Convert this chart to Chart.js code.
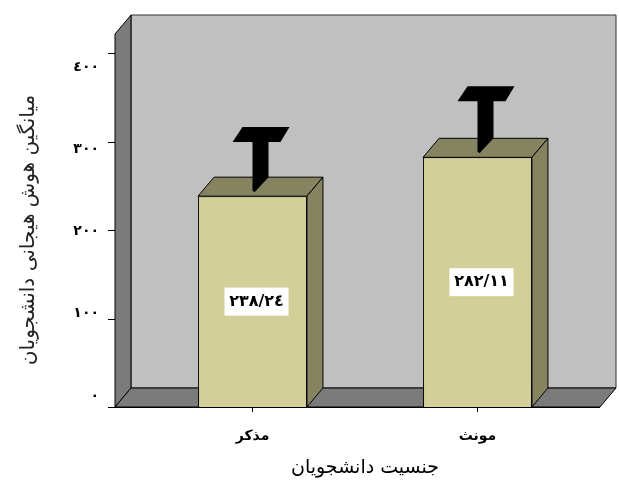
<!DOCTYPE html>
<html>
<head>
<meta charset="utf-8">
<script src="https://cdn.jsdelivr.net/npm/chart.js@4.4.0/dist/chart.umd.min.js"></script>
<style>
    body { margin: 0; background: #fff; }
    #wrap { width: 619px; height: 482px; }
</style>
</head>
<body>
<div id="wrap"><canvas id="grafico" width="619" height="482"></canvas></div>
<script>
const categories = ["مذکر", "مونث"];
const means = [238.24, 282.11];
const errors = [59, 61];
const yTicks = [0, 100, 200, 300, 400];

const FONT = "'DejaVu Sans', sans-serif";
const dx = 16, dy = -19; // profundidad 3D

// 0-9 -> arabic-indic digits, "." -> "/"
function arabicNum(n) {
    return String(n).replace(/[0-9]/g, d => "٠١٢٣٤٥٦٧٨٩"[d]).replace(".", "/");
}

function poly(ctx, pts, fill, stroke) {
    ctx.beginPath();
    ctx.moveTo(pts[0][0], pts[0][1]);
    pts.slice(1).forEach(p => ctx.lineTo(p[0], p[1]));
    ctx.closePath();
    if (fill) { ctx.fillStyle = fill; ctx.fill(); }
    if (stroke) { ctx.strokeStyle = stroke; ctx.lineWidth = 1; ctx.stroke(); }
}

const walls3d = {
    id: "walls3d",
    beforeDatasetsDraw(chart) {
        const { ctx, chartArea: a, scales: { y } } = chart;
        const x0 = a.left - 25, x1 = a.right + 10;
        const yb = y.getPixelForValue(0), yt = a.top - 19;
        ctx.save();
        // pared del fondo
        poly(ctx, [[x0 + dx, yt + dy], [x1 + dx, yt + dy], [x1 + dx, yb + dy], [x0 + dx, yb + dy]], "#c0c0c0", "#333");
        // pared lateral
        poly(ctx, [[x0, yt], [x0 + dx, yt + dy], [x0 + dx, yb + dy], [x0, yb]], "#7b7b7b", "#000");
        // piso
        poly(ctx, [[x0, yb], [x0 + dx, yb + dy], [x1 + dx, yb + dy], [x1, yb]], "#7b7b7b", "#000");
        // marcas del eje y
        ctx.strokeStyle = "#000";
        ctx.beginPath();
        yTicks.forEach(v => {
            const py = Math.round(y.getPixelForValue(v)) + 0.5;
            ctx.moveTo(x0 - 7, py);
            ctx.lineTo(x0, py);
        });
        ctx.moveTo(x0 - 3, yb + 0.5);
        ctx.lineTo(x1, yb + 0.5);
        ctx.stroke();
        ctx.restore();
    },
    afterDatasetsDraw(chart) {
        const { ctx, scales: { y } } = chart;
        const meta = chart.getDatasetMeta(0);
        ctx.save();
        meta.data.forEach((bar, i) => {
            const xl = bar.x - bar.width / 2, xr = bar.x + bar.width / 2;
            const top = bar.y, base = bar.base;
            // cara superior y lateral
            poly(ctx, [[xl, top], [xr, top], [xr + dx, top + dy], [xl + dx, top + dy]], "#858360", "#000");
            poly(ctx, [[xr, top], [xr + dx, top + dy], [xr + dx, base + dy], [xr, base]], "#858360", "#000");

            // barra de error
            const xc = bar.x;
            const cy = y.getPixelForValue(means[i] + errors[i]) + dy / 2;
            poly(ctx, [[xc, cy + 7], [xc + 16, cy + 7], [xc + 16, top + dy], [xc + 2, top - 4], [xc, top - 6]], "#000");
            poly(ctx, [[xc - 20, cy + 7.5], [xc + 28, cy + 7.5], [xc + 37, cy - 7.5], [xc - 10, cy - 7.5]], "#000");

            // etiqueta
            const lx = bar.x + 4, ly = (top + base) / 2;
            ctx.fillStyle = "#fff";
            ctx.fillRect(lx - 32, ly - 14, 64, 28);
            ctx.fillStyle = "#000";
            ctx.font = "bold 16px " + FONT;
            ctx.textAlign = "center";
            ctx.textBaseline = "middle";
            ctx.fillText(arabicNum(means[i]), lx, ly);
        });
        ctx.restore();
    }
};

const ctx = document.getElementById("grafico").getContext("2d");
new Chart(ctx, {
    type: "bar",
    data: {
        labels: categories,
        datasets: [{
            data: means,
            backgroundColor: "#d3cf99",
            borderColor: "#000",
            borderWidth: 1,
            barPercentage: 0.484,
            categoryPercentage: 1
        }]
    },
    options: {
        responsive: false,
        animation: false,
        layout: { padding: { left: 0, right: 29, top: 53, bottom: 0 } },
        plugins: { legend: { display: false }, tooltip: { enabled: false } },
        scales: {
            x: {
                grid: { drawOnChartArea: false, offset: false, tickLength: 5, color: "#000" },
                border: { display: false },
                ticks: { color: "#000", padding: 16, font: { family: FONT, size: 14, weight: "bold" } },
                title: {
                    display: true,
                    text: "جنسیت دانشجویان",
                    color: "#000",
                    padding: { top: 0, bottom: 3 },
                    font: { family: FONT, size: 19 }
                },
                afterFit: s => { s.height = 75; }
            },
            y: {
                display: false,
                min: 0,
                max: 400
            },
            yLabels: {
                type: "linear",
                position: "left",
                min: -13.4,
                max: 417,
                grid: { display: false },
                border: { display: false },
                afterBuildTicks: s => { s.ticks = yTicks.map(v => ({ value: v })); },
                ticks: {
                    color: "#000",
                    padding: 33,
                    font: { family: FONT, size: 14, weight: "bold" },
                    callback: v => arabicNum(v)
                },
                title: {
                    display: true,
                    text: "میانگین هوش هیجانی دانشجویان",
                    color: "#222",
                    padding: { top: 17, bottom: 0 },
                    font: { family: FONT, size: 20 }
                },
                afterFit: s => { s.width = 140; }
            }
        }
    },
    plugins: [walls3d]
});
</script>
</body>
</html>
